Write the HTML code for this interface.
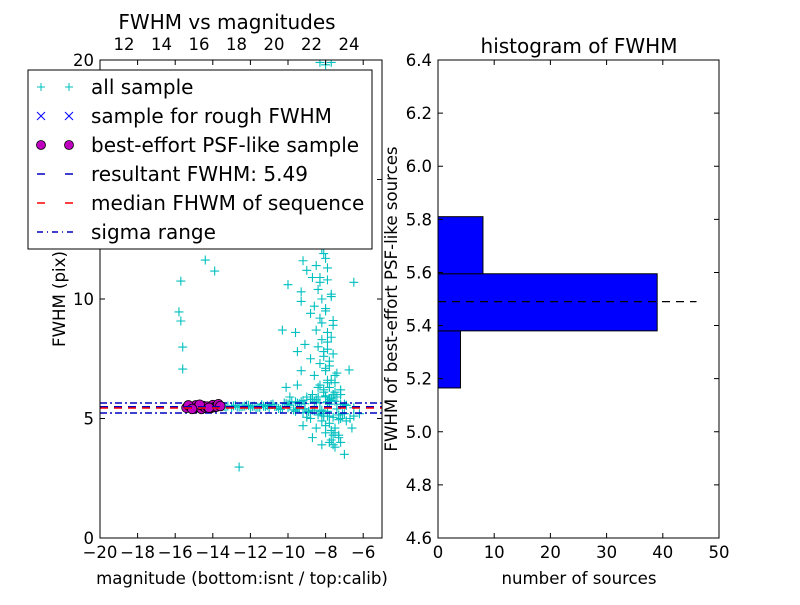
<!DOCTYPE html>
<html><head><meta charset="utf-8"><style>
body{margin:0;background:#fff}
svg text{font-family:"DejaVu Sans","Liberation Sans",sans-serif;fill:#000}
</style></head><body>
<svg id="c" width="800" height="600" xmlns="http://www.w3.org/2000/svg">
<rect width="800" height="600" fill="#fff"/>
<g id="left"></g>
<g id="right"></g>
</svg>
<script>
const allMag=[-8.3,-8.0,-7.7,-8.5,-8.1,-8.6,-8.3,-8.9,-8.6,-8.2,-9.2,-8.5,-8.0,-9.0,-8.7,-8.3,-7.9,-10.0,-9.3,-8.4,-8.2,-7.7,-9.3,-8.6,-8.0,-8.8,-8.3,-7.6,-10.3,-9.6,-8.5,-7.9,-8.2,-7.7,-9.1,-8.4,-7.9,-9.5,-8.1,-7.6,-8.8,-8.3,-7.8,-9.3,-8.0,-7.4,-8.6,-7.9,-7.5,-8.3,-7.8,-10.1,-9.5,-7.2,-8.1,-8.7,-7.6,-9.0,-8.4,
-8.8,-8.2,-7.8,-9.2,-8.5,-7.5,-8.0,-7.3,-8.7,-7.7,-7.2,-7.5,-7.0,-7.6,-6.6,-6.9,-7.0,-6.5,-6.7,
-13.4,-13.2,-13.0,-12.8,-12.6,-12.4,-12.2,-12.0,-11.8,-11.6,-11.4,-11.2,-11.0,-10.8,-10.6,-10.4,-10.2,-10.0,-9.8,-9.6,-9.4,-9.2,-9.0,-8.8,-8.6,-8.4,-8.2,-8.0,-7.8,-7.6,-7.4,-7.2,-7.0,-13.3,-12.9,-12.5,-12.1,-11.7,-11.3,-10.9,-10.5,-10.1,-9.7,-9.3,-8.9,-8.5,-8.1,-7.7,-7.3,-9.9,-9.5,-9.1,-8.7,-8.3,-7.9,-7.5,-9.0,-8.6,-8.2,-7.8,-6.9,-6.5,-6.2,
-14.4,-13.9,-15.7,-15.8,-15.7,-15.6,-15.6,-12.6,-6.5,-6.75,-7.2,
-8.0,-8.2,-7.8,-8.1,-7.9,-8.3,-7.7,-8.0,-8.2,-7.6,-7.9,-8.1,-7.8,-8.0,-7.5,-7.7,-8.4,-7.9,-7.6,-8.1,-7.8,-7.4,-7.9,-8.0,-7.7,-7.3,-7.6,-7.8,-8.2,-7.5,
-12.7,-12.3,-11.9,-11.5,-11.1,-10.7,-10.3,-9.9,-9.5,-9.1,-8.7,-8.3,-7.9,-7.5,-7.1,-10.0,-9.6,-9.2,-8.8,-8.4,-8.0,-7.6,-7.2,-9.4,-8.9,-8.5,-8.1,-7.7,-7.3,-6.9];
const allFwhm=[19.9,19.8,19.9,17,15.5,14,13,12.7,12.3,12.1,11.6,11.4,11.7,11.2,10.9,10.9,10.8,10.6,10.3,10.4,10.0,10.2,9.9,9.7,9.5,9.4,9.2,9.1,8.7,8.6,8.7,8.6,8.3,8.4,8.1,8.0,7.9,7.8,7.6,7.7,7.5,7.3,7.2,7.0,7.0,6.9,6.8,6.6,6.5,6.4,6.3,6.3,6.4,6.2,6.1,6.0,6.0,5.9,5.9,
5.0,4.9,4.8,4.7,4.6,4.6,4.4,4.3,4.2,4.1,4.0,3.8,3.5,3.9,4.6,4.9,5.2,5.1,5.0,
5.5,5.52,5.46,5.55,5.48,5.5,5.56,5.44,5.52,5.47,5.58,5.5,5.42,5.6,5.5,5.38,5.65,5.45,5.7,5.3,5.62,5.75,5.25,5.8,5.35,5.9,5.2,5.95,5.1,6.0,5.4,5.0,5.6,5.47,5.53,5.49,5.55,5.45,5.51,5.58,5.42,5.62,5.36,5.7,5.3,5.78,5.22,5.85,5.15,5.9,5.65,5.4,5.8,5.3,5.1,6.1,5.05,5.7,5.35,5.6,5.55,5.45,5.2,
11.63,11.17,10.75,9.46,9.08,7.99,7.07,2.97,10.7,7.03,5.6,
13.5,12.9,12.4,11.9,11.3,10.7,10.1,9.6,9.0,8.9,8.2,7.8,7.4,7.1,6.8,6.6,6.3,6.5,6.0,6.2,5.8,5.9,5.7,4.7,4.5,4.2,4.3,4.0,3.9,4.4,
5.48,5.52,5.5,5.46,5.54,5.5,5.44,5.56,5.4,5.62,5.35,5.66,5.3,5.72,5.2,5.6,5.7,5.25,5.8,5.15,5.9,5.05,6.0,5.45,5.3,5.65,5.1,5.75,4.95,5.55];
const psfMag=[-15.4,-15.2,-15.0,-14.9,-14.8,-14.6,-14.5,-14.4,-14.3,-14.1,-14.0,-13.9,-13.8,-13.7,-15.3,-14.7,-14.2,-13.6,-15.1];
const psfFwhm=[5.45,5.5,5.42,5.55,5.48,5.4,5.52,5.46,5.5,5.44,5.56,5.48,5.5,5.6,5.55,5.58,5.45,5.52,5.4];
const resultFwhm=5.49, medianFwhm=5.44, sigmaLo=5.23, sigmaHi=5.65;
const xTicks=[-20,-18,-16,-14,-12,-10,-8,-6];
const yTicks=[0,5,10,15,20];
const topTicks=[12,14,16,18,20,22,24];
const binEdges=[5.165,5.38,5.595,5.81];
const binCounts=[4,39,8];
const hxTicks=[0,10,20,30,40,50];
const hyTicks=[4.6,4.8,5.0,5.2,5.4,5.6,5.8,6.0,6.2,6.4];

const NS="http://www.w3.org/2000/svg";
function mk(p,t,a,txt){const e=document.createElementNS(NS,t);for(const k in a)e.setAttribute(k,a[k]);if(txt!==undefined)e.textContent=txt;p.appendChild(e);return e;}
const L=document.getElementById('left'),R=document.getElementById('right');
const lx=v=>100+(v+20)*(282/15), ly=v=>538-v*(478/20);
const tx=v=>124+(v-12)*(225/12);
const hx=v=>438+v*(281/50), hy=v=>538-(v-4.6)*(478/1.8);

const defs=mk(document.getElementById('c'),'defs',{});
const cp=mk(defs,'clipPath',{id:'cl'});mk(cp,'rect',{x:100,y:60,width:282,height:478});
const pg=mk(L,'g',{'clip-path':'url(#cl)'});


for(let i=0;i<allMag.length;i++){const x=lx(allMag[i]),y=ly(allFwhm[i]);
 const p=mk(pg,'path',{d:`M${x-4.5} ${y}H${x+4.5}M${x} ${y-4.5}V${y+4.5}`,stroke:'#00bfbf','stroke-width':1.1});
 
 }
function hl(v,col,dash,name){const l=mk(pg,'line',{x1:100,x2:382,y1:ly(v),y2:ly(v),stroke:col,'stroke-width':1.5,'stroke-dasharray':dash});
 
 }
hl(sigmaHi,'#0000bf','7 3 2 3','sigma-upper-line');
hl(sigmaLo,'#0000bf','7 3 2 3','sigma-lower-line');
for(let i=0;i<psfMag.length;i++){const c=mk(pg,'circle',{cx:lx(psfMag[i]),cy:ly(psfFwhm[i]),r:4.8,fill:'#bf00bf',stroke:'#000','stroke-width':0.8});
 
 }
hl(resultFwhm,'#0000bf','8 6','resultant-fwhm-line');
hl(medianFwhm,'#ff0000','8 6','median-fwhm-line');
mk(L,'rect',{x:100,y:60,width:282,height:478,fill:'none',stroke:'#000'});
xTicks.forEach(v=>{const x=lx(v);mk(L,'path',{d:`M${x} 538v-5M${x} 60v5`,stroke:'#000'});
 mk(L,'text',{x:x,y:558,'text-anchor':'middle','font-size':16.5},v<0?'\u2212'+(-v):v);});
yTicks.forEach(v=>{const y=ly(v);mk(L,'path',{d:`M100 ${y}h5M382 ${y}h-5`,stroke:'#000'});
 mk(L,'text',{x:94,y:y+6,'text-anchor':'end','font-size':16.5},v);});
topTicks.forEach(v=>{const x=tx(v);
 mk(L,'text',{x:x,y:50,'text-anchor':'middle','font-size':16.5},v);});
mk(L,'text',{x:227,y:29,'text-anchor':'middle','font-size':20},'FWHM vs magnitudes');
mk(L,'text',{x:242,y:584,'text-anchor':'middle','font-size':16.6},'magnitude (bottom:isnt / top:calib)');
mk(L,'text',{x:65,y:299,'text-anchor':'middle','font-size':16.6,transform:'rotate(-90 65 299)'},'FWHM (pix)');
const lg=mk(L,'g',{});


mk(lg,'rect',{x:28,y:70,width:344,height:179,fill:'#fff',stroke:'#000'});
const items=[['all sample','plus'],['sample for rough FWHM','x'],['best-effort PSF-like sample','circ'],['resultant FWHM: 5.49','dash'],['median FHWM of sequence','red'],['sigma range','dd']];
items.forEach((it,i)=>{const y=87+i*29;const g=mk(lg,'g',{});
 
 
 [41,69].forEach(x=>{
  if(it[1]=='plus')mk(g,'path',{d:`M${x-4} ${y}h8M${x} ${y-4}v8`,stroke:'#00bfbf'});
  if(it[1]=='x')mk(g,'path',{d:`M${x-4} ${y-4}l8 8M${x+4} ${y-4}l-8 8`,stroke:'#0000ff'});
  if(it[1]=='circ')mk(g,'circle',{cx:x,cy:y,r:4.5,fill:'#bf00bf',stroke:'#000','stroke-width':0.8});});
 if(it[1]=='dash')mk(g,'path',{d:`M37 ${y}h8M65 ${y}h8`,stroke:'#0000bf','stroke-width':1.5});
 if(it[1]=='red')mk(g,'path',{d:`M37 ${y}h8M65 ${y}h8`,stroke:'#ff0000','stroke-width':1.5});
 if(it[1]=='dd')mk(g,'path',{d:`M37 ${y}h6M47 ${y}h1M52 ${y}h6M62 ${y}h1M67 ${y}h6`,stroke:'#0000bf','stroke-width':1.5});
 mk(g,'text',{x:91,y:y+7,'font-size':20},it[0]);});

for(let i=0;i<binCounts.length;i++){const r=mk(R,'rect',{x:hx(0),y:hy(binEdges[i+1]),width:hx(binCounts[i])-hx(0),height:hy(binEdges[i])-hy(binEdges[i+1]),fill:'#0000ff',stroke:'#000'});
 
 }
const dl=mk(R,'line',{x1:hx(0),x2:hx(46),y1:hy(resultFwhm),y2:hy(resultFwhm),stroke:'#000','stroke-dasharray':'8 6','stroke-width':1.3});


mk(R,'rect',{x:438,y:60,width:281,height:478,fill:'none',stroke:'#000'});
hxTicks.forEach(v=>{const x=hx(v);mk(R,'path',{d:`M${x} 538v-5M${x} 60v5`,stroke:'#000'});
 mk(R,'text',{x:x,y:558,'text-anchor':'middle','font-size':16.5},v);});
hyTicks.forEach(v=>{const y=hy(v);mk(R,'path',{d:`M438 ${y}h5M719 ${y}h-5`,stroke:'#000'});
 mk(R,'text',{x:432,y:y+6,'text-anchor':'end','font-size':16.5},v.toFixed(1));});
mk(R,'text',{x:579,y:53,'text-anchor':'middle','font-size':20},'histogram of FWHM');
mk(R,'text',{x:579,y:584,'text-anchor':'middle','font-size':16.6},'number of sources');
mk(R,'text',{x:397,y:299,'text-anchor':'middle','font-size':16.6,transform:'rotate(-90 397 299)'},'FWHM of best-effort PSF-like sources');
</script>
</body></html>
